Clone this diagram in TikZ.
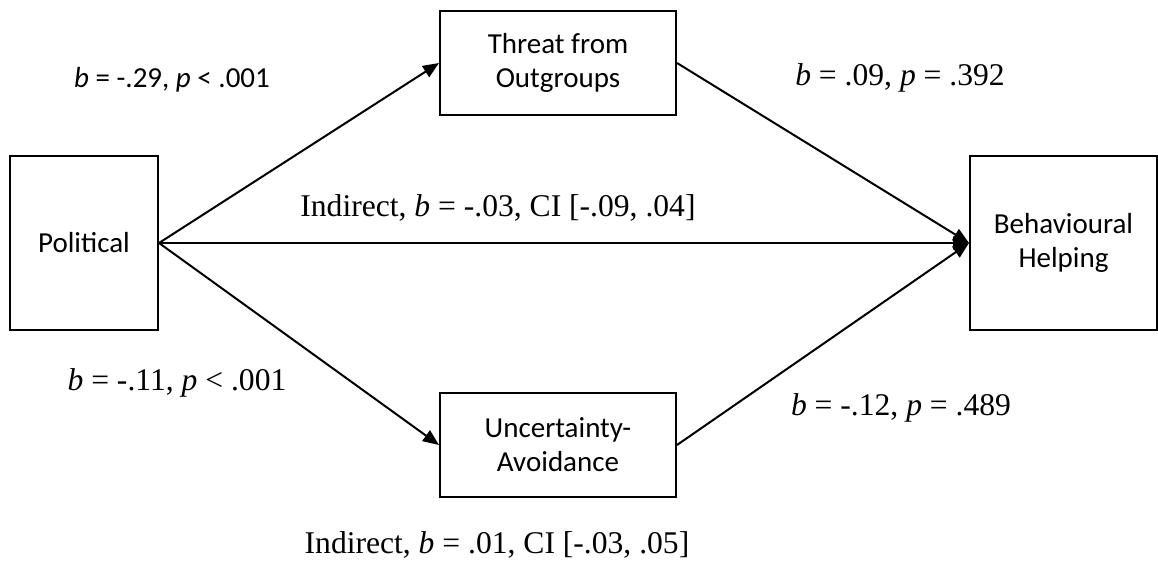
\documentclass[tikz,border=0pt]{standalone}
\usepackage{fontspec}
\setmainfont{Liberation Serif}
\newfontfamily\calibri{Carlito}
\usetikzlibrary{arrows.meta}

\begin{document}
\begin{tikzpicture}[
    x=0.5pt, y=-0.5pt,
    var/.style = {draw, line width=1pt, align=center, inner sep=0pt,
                  font=\calibri\fontsize{14.5}{17}\selectfont},
    link/.style = {line width=1pt, -{Triangle[length=8pt, width=6.5pt]}},
    est/.style = {inner sep=0pt, font=\fontsize{15.8}{18}\selectfont}
                    ]
    \useasboundingbox (0,0) rectangle (1158,571);
    % the four variables
    \node[var, minimum width=74pt, minimum height=87pt] at (84,243) (pol) {Political};
    \node[var, minimum width=93.5pt, minimum height=87pt] at (1063.5,243) (help) {Behavioural\\Helping};
    \node[var, minimum width=118pt, minimum height=52pt] at (558,63) (threat) {Threat from\\Outgroups};
    \node[var, minimum width=118pt, minimum height=52pt] at (558,445) (unc) {Uncertainty-\\Avoidance};
    % paths
    \draw[link] (pol.east) -- (threat.west);
    \draw[link] (threat.east) -- (help.west);
    \draw[link] (pol.east) -- (unc.west);
    \draw[link] (unc.east) -- (help.west);
    \draw[link] (pol.east) -- (help.west);
    % estimates
    \node[est, font=\calibri\fontsize{14.5}{17}\selectfont] at (172,80) (a1) {\textit{b} = -.29, \textit{p} < .001};
    \node[est] at (900,78) (b1) {\textit{b} = .09, \textit{p} = .392};
    \node[est] at (498,208) (ind1) {Indirect, \textit{b} = -.03, CI [-.09, .04]};
    \node[est] at (177,383) (a2) {\textit{b} = -.11, \textit{p} < .001};
    \node[est] at (901,408) (b2) {\textit{b} = -.12, \textit{p} = .489};
    \node[est] at (497,545) (ind2) {Indirect, \textit{b} = .01, CI [-.03, .05]};
\end{tikzpicture}
\end{document}
